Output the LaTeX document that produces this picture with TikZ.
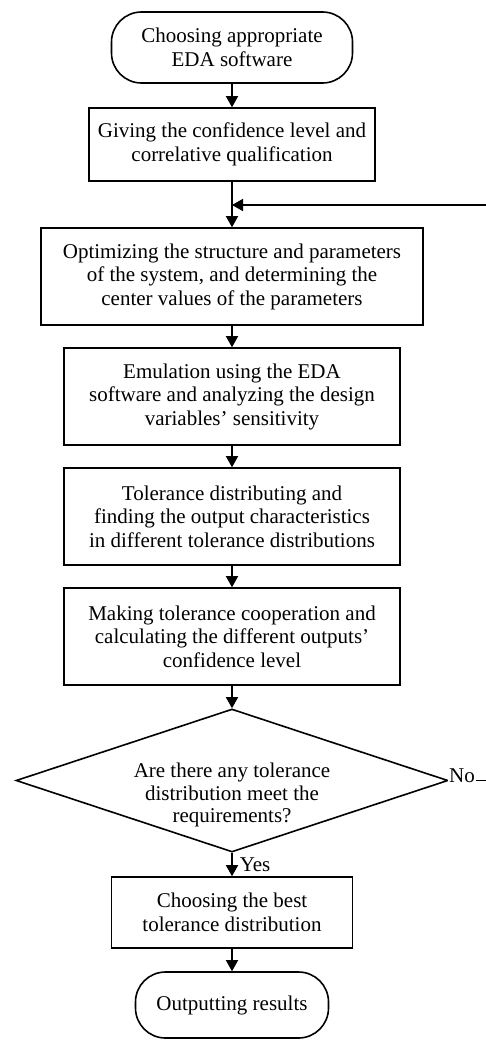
\documentclass[tikz,border=0pt]{standalone}
\usepackage{fontspec}
\setmainfont{Liberation Serif}
\usetikzlibrary{arrows.meta,shapes.geometric}

\begin{document}
\begin{tikzpicture}[x=1pt,y=-1pt,
  font=\fontsize{21}{23.5}\selectfont,
  every node/.style={inner sep=0pt},
  procbox/.style={draw, line width=1.6pt, align=center},
  termbox/.style={draw, line width=1.6pt, align=center, rounded corners=30pt},
  decbox/.style={draw, line width=1.6pt, diamond, shape aspect=3},
  flow/.style={line width=1.6pt, -{Triangle[length=11pt,width=12pt]}},
  wire/.style={line width=1.6pt}
]
\useasboundingbox (0,0) rectangle (486,1041);

% process chain
\node[termbox, minimum width=241pt, minimum height=71pt] (start) at (232,47.5)
  {Choosing appropriate\\EDA software};
\node[procbox, minimum width=286pt, minimum height=73pt] (conf) at (232,144.5)
  {Giving the confidence level and\\correlative qualification};
\node[procbox, minimum width=382pt, minimum height=97pt] (opt) at (232,276.5)
  {Optimizing the structure and parameters\\of the system, and determining the\\center values of the parameters};
\node[procbox, minimum width=336pt, minimum height=97pt] (emu) at (232,396.5)
  {Emulation using the EDA\\software and analyzing the design\\variables’ sensitivity};
\node[procbox, minimum width=336pt, minimum height=97pt] (tol) at (232,516.5)
  {Tolerance distributing and\\finding the output characteristics\\in different tolerance distributions};
\node[procbox, minimum width=336pt, minimum height=97pt] (coop) at (232,636.5)
  {Making tolerance cooperation and\\calculating the different outputs’\\confidence level};
\node[decbox, minimum width=432pt, minimum height=143pt] (dec) at (232,780.5) {};
\node[align=center, font=\fontsize{21}{22.5}\selectfont] (dectext) at (232,795)
  {Are there any tolerance\\distribution meet the\\requirements?};
\node[procbox, minimum width=241pt, minimum height=71pt] (best) at (232,912.5)
  {Choosing the best\\tolerance distribution};
\node[termbox, minimum width=193pt, minimum height=66pt] (out) at (232,1005)
  {Outputting results};

% main arrows
\draw[flow] (start) -- (conf);
\draw[flow] (conf) -- (opt);
\draw[flow] (opt) -- (emu);
\draw[flow] (emu) -- (tol);
\draw[flow] (tol) -- (coop);
\draw[flow] (coop) -- (dec.north);
\draw[flow] (dec.south) -- (best) node[midway, anchor=west, xshift=7pt] (yes) {Yes};
\draw[flow] (best) -- (out);

% feedback loop for the "No" branch
\coordinate (join) at (232,205);
\coordinate (loopB) at (492,780.5);
\coordinate (loopT) at (492,205);
\draw[wire] (dec.east) -- (loopB) -- (loopT);
\draw[flow] (loopT) -- (join);
\node[fill=white, inner sep=1pt, anchor=west] (no) at (448,775.5) {No};
\end{tikzpicture}
\end{document}
